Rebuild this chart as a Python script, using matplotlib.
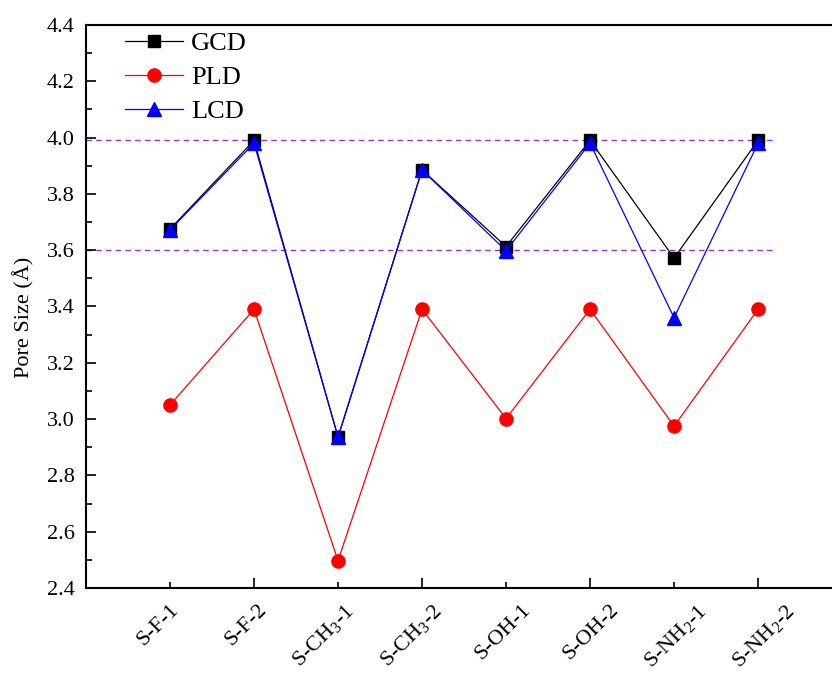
import matplotlib
matplotlib.use("Agg")
import matplotlib.pyplot as plt
from matplotlib.ticker import MultipleLocator, FixedLocator

plt.rcParams["font.family"] = ["Liberation Serif", "DejaVu Serif"]
plt.rcParams["mathtext.fontset"] = "custom"
plt.rcParams["mathtext.rm"] = "Liberation Serif"
plt.rcParams["mathtext.it"] = "Liberation Serif:italic"

# Structures (x categories)
structures = [
    "S-F-1", "S-F-2",
    r"S-CH$_{\mathrm{3}}$-1", r"S-CH$_{\mathrm{3}}$-2",
    "S-OH-1", "S-OH-2",
    r"S-NH$_{\mathrm{2}}$-1", r"S-NH$_{\mathrm{2}}$-2",
]
positions = [1, 2, 3, 4, 5, 6, 7, 8]

# Pore sizes in angstrom
gcd = [3.675, 3.99, 2.936, 3.885, 3.613, 3.99, 3.572, 3.99]
pld = [3.05, 3.39, 2.497, 3.39, 3.002, 3.39, 2.975, 3.39]
lcd = [3.672, 3.98, 2.936, 3.885, 3.598, 3.98, 3.360, 3.98]

# Reference levels
ref_levels = [3.99, 3.60]
ref_span = [0, 8.2]

fig = plt.figure(figsize=(8.32, 6.75), dpi=100)
ax = fig.add_axes([0.1034, 0.1289, 0.9087, 0.8341])

for lvl in ref_levels:
    ax.plot(ref_span, [lvl, lvl], color="#9933cc", lw=1.0, ls=(0, (4, 3)), zorder=1)

ax.plot(positions, gcd, color="black", lw=0.9, marker="s", ms=8.7,
        mfc="black", mec="black", label="GCD", zorder=3)
ax.plot(positions, pld, color="#ff0000", lw=0.9, marker="o", ms=9.5,
        mfc="#ff0000", mec="#ff0000", label="PLD", zorder=3)
ax.plot(positions, lcd, color="#0000ff", lw=0.9, marker="^", ms=10.5,
        mfc="#0000ff", mec="#0000ff", label="LCD", zorder=4)

ax.set_xlim(0, 9)
ax.set_ylim(2.4, 4.4)
ax.yaxis.set_major_locator(MultipleLocator(0.2))
ax.yaxis.set_minor_locator(MultipleLocator(0.1))
ax.set_yticklabels([f"{v:.1f}" for v in ax.get_yticks()])

ax.xaxis.set_major_locator(FixedLocator([2, 4, 6, 8]))
ax.xaxis.set_minor_locator(FixedLocator([1, 3, 5, 7]))
ax.set_xticklabels([])
# rotated category labels, spaced slightly wider than the ticks
for p, lab in zip(positions, structures):
    ax.text(p + 0.15 + 0.048 * (p - 1), 2.4 - 0.045, lab, rotation=45,
            ha="right", va="top", fontsize=16)

ax.tick_params(axis="both", which="major", direction="in", length=7, width=1.2,
               labelsize=16, top=False, right=False)
ax.tick_params(axis="both", which="minor", direction="in", length=4, width=1.2,
               top=False, right=False)
ax.tick_params(axis="y", pad=8)

for s in ax.spines.values():
    s.set_linewidth(1.5)

ax.set_ylabel("Pore Size (Å)", fontsize=16)
ax.yaxis.set_label_coords(-0.068, 0.481)

ax.legend(loc="upper left", bbox_to_anchor=(0.02, 1.03), frameon=False,
          fontsize=19, handlelength=2.2, handletextpad=0.3, labelspacing=0.4)

fig.savefig("out.png", dpi=100)
